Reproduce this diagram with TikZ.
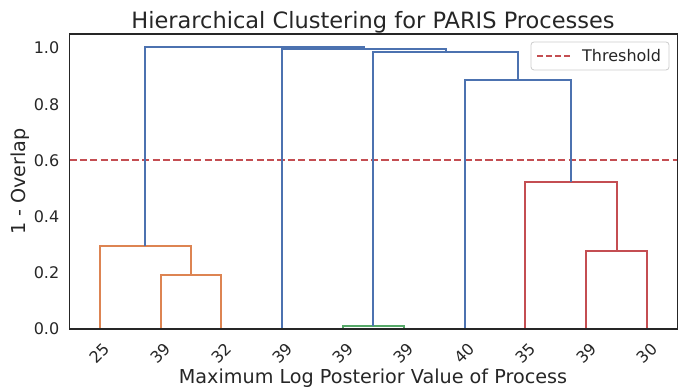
\documentclass[tikz,border=0pt]{standalone}
\usepackage{fontspec}
\setmainfont{DejaVu Sans}
\definecolor{sbblue}{rgb}{0.298,0.447,0.690}
\definecolor{sborange}{rgb}{0.867,0.518,0.322}
\definecolor{sbgreen}{rgb}{0.333,0.659,0.408}
\definecolor{sbred}{rgb}{0.769,0.306,0.322}
\definecolor{inkgray}{gray}{0.15}
\newcommand{\ticksize}{\fontsize{16}{19}\selectfont}
\newcommand{\labsize}{\fontsize{19.2}{23}\selectfont}
\begin{document}
\begin{tikzpicture}[x=1pt, y=1pt, inkgray,
                    link/.style={line width=2pt},
                    xlab/.style={font=\ticksize, rotate=45, inner sep=0pt},
                    ylab/.style={font=\ticksize, anchor=east, inner sep=0pt},
                    threshold/.style={sbred, line width=2pt, dash pattern=on 7.2pt off 3.2pt}]

    \useasboundingbox (0,0) rectangle (681,387);

    \begin{scope}[shift={(69.4,58)}, x=6.08pt, y=281pt]
        % threshold
        \coordinate (t0) at (0,0.6);
        \coordinate (t1) at (100,0.6);
        \draw[threshold] (t0) -- (t1);

        % leaves
        \foreach \lab [count=\i] in {25,39,32,39,39,39,40,35,39,30}{
            \coordinate (l\i) at (\i*10-5,0);
            \node[xlab] at ([yshift=-24pt]l\i) {\lab};
        }
        \foreach \v in {0.0,0.2,0.4,0.6,0.8,1.0}
            \node[ylab] at ([xshift=-10pt]0,\v) {\v};

        % merge points
        \coordinate (c23)   at (20,0.192);
        \coordinate (c123)  at (12.5,0.295);
        \coordinate (c56)   at (50,0.010);
        \coordinate (c910)  at (90,0.278);
        \coordinate (c8910) at (82.5,0.523);
        \coordinate (c7r)   at (73.75,0.886);
        \coordinate (cg)    at (61.875,0.986);
        \coordinate (c4)    at (48.44,0.995);
        \coordinate (ctop)  at (30.47,1.002);

        \draw[link, sborange] (l2) |- (c23) -| (l3);
        \draw[link, sborange] (l1) |- (c123) -| (c23);
        \draw[link, sbgreen] (l5) |- (c56) -| (l6);
        \draw[link, sbred] (l9) |- (c910) -| (l10);
        \draw[link, sbred] (l8) |- (c8910) -| (c910);
        \draw[link, sbblue] (l7) |- (c7r) -| (c8910);
        \draw[link, sbblue] (c56) |- (cg) -| (c7r);
        \draw[link, sbblue] (l4) |- (c4) -| (cg);
        \draw[link, sbblue] (c123) |- (ctop) -| (c4);

        % frame
        \draw[line width=1.6pt] (0,0) rectangle (100,1.05);
    \end{scope}

    % legend
    \node[draw=black!20, fill=white, rounded corners=3pt, line width=0.8pt,
          minimum width=138pt, minimum height=28pt] (legend) at (600,331) {};
    \coordinate (d0) at (537,331);
    \coordinate (d1) at (570,331);
    \draw[threshold, dash pattern=on 6pt off 3pt] (d0) -- (d1);
    \node[font=\ticksize, anchor=west, inner sep=0pt] (leglab) at (582,331) {Threshold};

    % titles
    \node[font=\fontsize{22.5}{27}\selectfont] (title) at (373,365) {Hierarchical Clustering for PARIS Processes};
    \node[font=\labsize, anchor=base] (xtitle) at (373,3.8) {Maximum Log Posterior Value of Process};
    \node[font=\labsize, rotate=90] (ytitle) at (20,205.5) {1 - Overlap};
\end{tikzpicture}
\end{document}
